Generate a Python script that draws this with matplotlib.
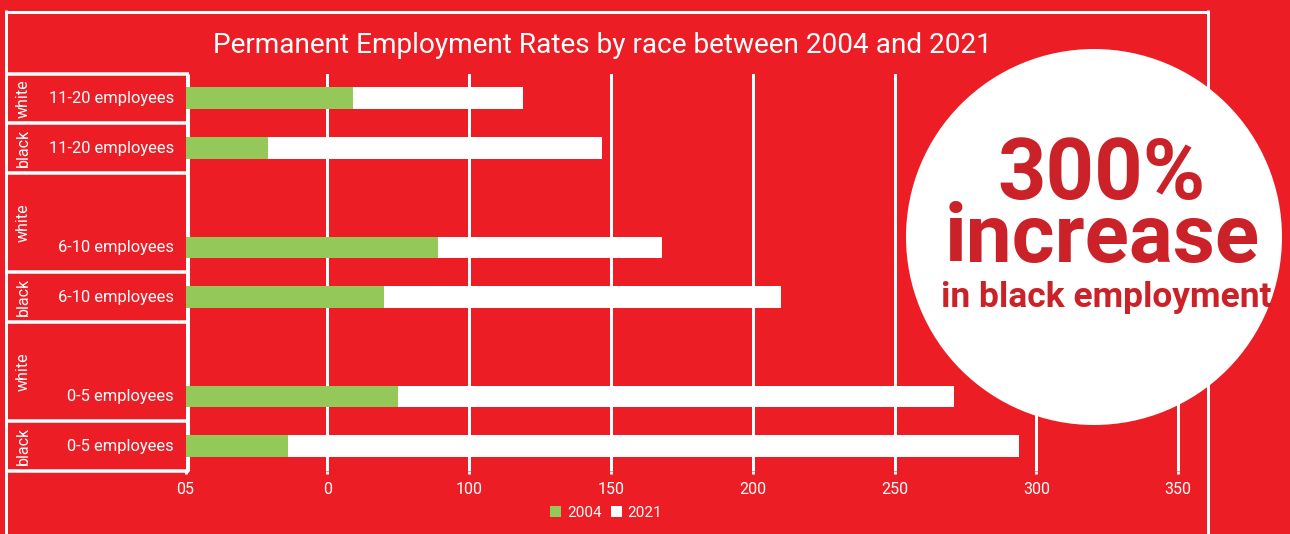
import matplotlib
matplotlib.use("Agg")
import matplotlib.pyplot as plt
from matplotlib.patches import Circle, Patch
from matplotlib.transforms import blended_transform_factory

# ---- data -------------------------------------------------------------
size_bands = ["11-20 employees", "6-10 employees", "0-5 employees"]
races = ["white", "black"]
rate_2004 = {"white": [59, 89, 75], "black": [29, 70, 36]}
rate_2021 = {"white": [60, 79, 196], "black": [118, 140, 258]}
years = ["2004", "2021"]
x_ticks = [0, 50, 100, 150, 200, 250, 300, 350]
x_tick_labels = ["05", "0", "100", "150", "200", "250", "300", "350"]
title = "Permanent Employment Rates by race between 2004 and 2021"
callout = ["300%", "increase", "in black employment"]

# ---- style ------------------------------------------------------------
RED = "#ED1D25"
DARK_RED = "#CB2128"
GREEN = "#94C95A"
WHITE = "#FFFFFF"
FONT = "Roboto"
plt.rcParams["font.family"] = [FONT, "DejaVu Sans"]

W, H, DPI = 1290, 534, 100
fig = plt.figure(figsize=(W / DPI, H / DPI), dpi=DPI, facecolor=RED)

def px(v):
    """pixels -> points"""
    return v * 72 / DPI

# full-figure background layer in pixel coordinates
bg = fig.add_axes([0, 0, 1, 1], zorder=0)
bg.set_xlim(0, W)
bg.set_ylim(H, 0)
bg.axis("off")

# rows taken by the white panel of each band (black always one row)
white_rows = [1, 2, 2]
slots, panel_edges = {}, [-0.5]
cursor = 0
for i, band in enumerate(size_bands):
    cursor += white_rows[i]
    slots[("white", i)] = cursor - 1
    panel_edges.append(cursor - 0.5)
    slots[("black", i)] = cursor
    cursor += 1
    panel_edges.append(cursor - 0.5)
n_slots = cursor

# ---- plot area --------------------------------------------------------
left_px, right_px = 185.5, 1206.5
top_px, row_px = 73.5, 49.7
bottom_px = top_px + n_slots * row_px
ax = fig.add_axes([left_px / W, 1 - bottom_px / H,
                   (right_px - left_px) / W, (bottom_px - top_px) / H], zorder=1)
ax.patch.set_visible(False)
ax.set_xlim(0, 360)
ax.set_ylim(n_slots - 0.5, -0.5)
for s in ax.spines.values():
    s.set_visible(False)

bar_h = 0.44
for race in races:
    for i in range(len(size_bands)):
        y = slots[(race, i)]
        v04 = rate_2004[race][i]
        v21 = rate_2021[race][i]
        ax.barh(y, v04, height=bar_h, color=GREEN, zorder=3)
        ax.barh(y, v21, left=v04, height=bar_h, color=WHITE, zorder=3)

ax.set_axisbelow(True)
ax.grid(axis="x", color=WHITE, linewidth=px(3))
ax.grid(axis="y", visible=False)
ax.set_xticks(x_ticks)
ax.set_xticklabels(x_tick_labels)
ax.set_yticks([])
ax.tick_params(axis="x", colors=WHITE, length=2, width=px(3), pad=6,
               labelsize=11.5)

# ---- frame and category panels ---------------------------------------
lw_frame = px(3)
bg.plot([5, 1209], [11.5, 11.5], color=WHITE, lw=lw_frame, solid_capstyle="butt")
bg.plot([6, 6], [10, H], color=WHITE, lw=lw_frame, solid_capstyle="butt")
bg.plot([1208, 1208], [10, H], color=WHITE, lw=lw_frame, solid_capstyle="butt")

mix = blended_transform_factory(bg.transData, ax.transData)
for e in panel_edges:
    bg.plot([5, 189], [e, e], color=WHITE, lw=px(3.5), transform=mix,
            solid_capstyle="butt")
bg.plot([187.5, 187.5], [panel_edges[0], panel_edges[-1]], color=WHITE,
        lw=px(3), transform=mix, solid_capstyle="butt")

for i, band in enumerate(size_bands):
    for race in races:
        y = slots[(race, i)]
        bg.text(174, y, band, transform=mix, ha="right", va="center",
                color=WHITE, fontsize=11.9)
    # race label centred in its panel
    w_top = panel_edges[2 * i]
    w_bot = panel_edges[2 * i + 1]
    b_bot = panel_edges[2 * i + 2]
    bg.text(23, (w_top + w_bot) / 2, "white", transform=mix, rotation=90,
            ha="center", va="center", color=WHITE, fontsize=11.5)
    bg.text(23, (w_bot + b_bot) / 2, "black", transform=mix, rotation=90,
            ha="center", va="center", color=WHITE, fontsize=11.5)

bg.text(602.5, 53, title, ha="center", va="baseline", color=WHITE,
        fontsize=20.2)

handles = [Patch(facecolor=GREEN, label=years[0]),
           Patch(facecolor=WHITE, label=years[1])]
fig.legend(handles=handles, loc="center", bbox_to_anchor=(606 / W, 1 - 513 / H),
           ncol=2, frameon=False, labelcolor=WHITE, fontsize=11,
           handlelength=0.75, handleheight=0.75, handletextpad=0.35,
           columnspacing=0.6, borderpad=0)

# ---- callout circle ---------------------------------------------------
fg = fig.add_axes([0, 0, 1, 1], zorder=2)
fg.set_xlim(0, W)
fg.set_ylim(H, 0)
fg.axis("off")
fg.add_patch(Circle((1094, 237), 188, facecolor=WHITE, edgecolor="none"))
fg.text(1102, 199, callout[0], ha="center", va="baseline", color=DARK_RED,
        fontsize=61, fontweight="bold")
fg.text(1102, 262, callout[1], ha="center", va="baseline", color=DARK_RED,
        fontsize=59, fontweight="bold")
fg.text(1106, 307, callout[2], ha="center", va="baseline", color=DARK_RED,
        fontsize=25.5, fontweight="bold")

fig.savefig("out.png", dpi=DPI, facecolor=RED)
